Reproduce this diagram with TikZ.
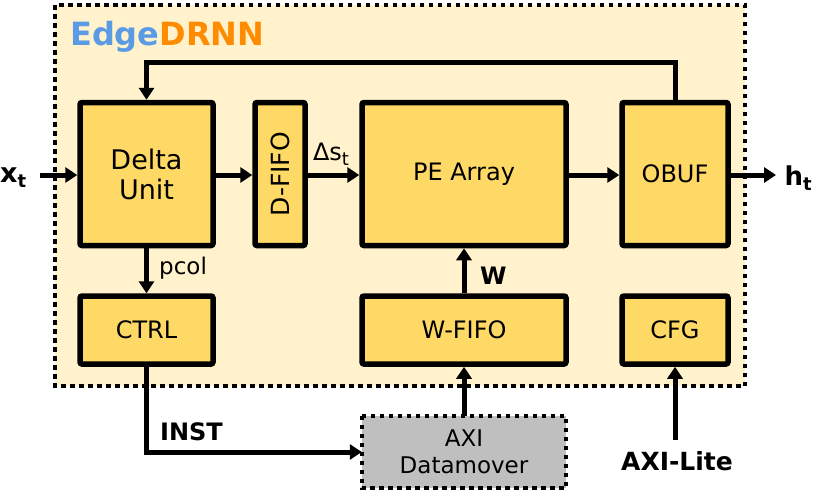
\documentclass[tikz,border=0pt]{standalone}
\usepackage{fontspec}
\setmainfont{DejaVu Sans}
\usetikzlibrary{arrows.meta,positioning}
\definecolor{boxfill}{HTML}{FFD966}
\definecolor{bgfill}{HTML}{FFF2CC}
\definecolor{grayfill}{HTML}{BFBFBF}
\definecolor{edgeblue}{HTML}{5B9BE5}
\definecolor{edgeorange}{HTML}{FF8C00}
\newcommand{\fs}[1]{\fontsize{#1}{#1}\selectfont}
\tikzset{
  blk/.style={draw=black, line width=5.5pt, fill=boxfill, rounded corners=2pt, align=center, inner sep=0pt, font=\fs{24}},
  conn/.style={line width=5pt, -{Triangle[length=12pt,width=15pt]}},
  lbl/.style={inner sep=0pt, font=\fs{23}},
  blbl/.style={inner sep=0pt, font=\fs{24}\bfseries},
  dotbox/.style={line width=4.5pt, dash pattern=on 4.5pt off 4.5pt},
}
\begin{document}
\begin{tikzpicture}[x=1pt,y=-1pt]
\useasboundingbox (0,0) rectangle (814,491);
% background container
\fill[bgfill] (55,5) rectangle (745,386);
\draw[dotbox] (55,5) rectangle (745,386);
\node[anchor=base west, inner sep=0pt, font=\fs{32}\bfseries] (title) at (70,45) {\textcolor{edgeblue}{Edge}\textcolor{edgeorange}{DRNN}};
% blocks
\node[blk, minimum width=133pt, minimum height=143pt, font=\fs{27}] (delta) at (146.5,174) {Delta\\[3pt]Unit};
\node[blk, minimum width=50pt, minimum height=143pt] (dfifo) at (280,174) {};
\node[rotate=90, font=\fs{25}, inner sep=0pt] (dfifot) at (dfifo.center) {D-FIFO};
\node[blk, minimum width=204pt, minimum height=143pt, font=\fs{24}] (pe) at (464,174) {PE Array};
\node[blk, minimum width=106pt, minimum height=143pt] (obuf) at (675,174) {OBUF};
\node[blk, minimum width=133pt, minimum height=68pt] (ctrl) at (146.5,330) {CTRL};
\node[blk, minimum width=204pt, minimum height=68pt] (wfifo) at (464,330) {W-FIFO};
\node[blk, minimum width=106pt, minimum height=68pt] (cfg) at (675,330) {CFG};
\node[fill=grayfill, minimum width=204pt, minimum height=72pt, align=center, inner sep=0pt, font=\fs{23}] (axi) at (464,452) {AXI\\[4pt]Datamover};
\draw[dotbox] (axi.north west) rectangle (axi.south east);
% external coordinates
\coordinate (xin) at (40,175);
\coordinate (hout) at (776,175);
\coordinate (axilite) at (675,440);
\node[anchor=west, blbl, font=\fs{27}\bfseries] (xt) at (0,178) {x\raisebox{-5pt}{\fs{18}t}};
\node[anchor=east, blbl, font=\fs{26}\bfseries] (ht) at (812,178) {h\raisebox{-5pt}{\fs{18}t}};
\node[blbl, font=\fs{25}\bfseries] (axil) at (677,461) {AXI-Lite};
% connectors
\draw[conn] (xin) -- (delta.west |- xin);
\draw[conn] (delta.east |- xin) -- (dfifo.west |- xin);
\draw[conn] (dfifo.east |- xin) -- (pe.west |- xin);
\node[lbl, font=\fs{24}, anchor=south] (dst) at (331,166) {Δs\raisebox{-5pt}{\fs{18}t}};
\draw[conn] (pe.east |- xin) -- (obuf.west |- xin);
\draw[conn] (obuf.east |- xin) -- (hout);
\draw[conn] (obuf.north) -- ++(0,-37) -| (delta.north);
\draw[conn] (delta.south) -- (ctrl.north);
\node[lbl, font=\fs{23}, anchor=west] (pcol) at (159,268) {pcol};
\draw[conn] (wfifo.north) -- (pe.south);
\node[blbl, anchor=west] (w) at (480,276) {W};
\draw[conn] (ctrl.south) |- (axi.west);
\node[blbl, anchor=south west] (inst) at (160,441) {INST};
\draw[conn] (axi.north) -- (wfifo.south);
\draw[conn] (axilite) -- (cfg.south);
\end{tikzpicture}
\end{document}
